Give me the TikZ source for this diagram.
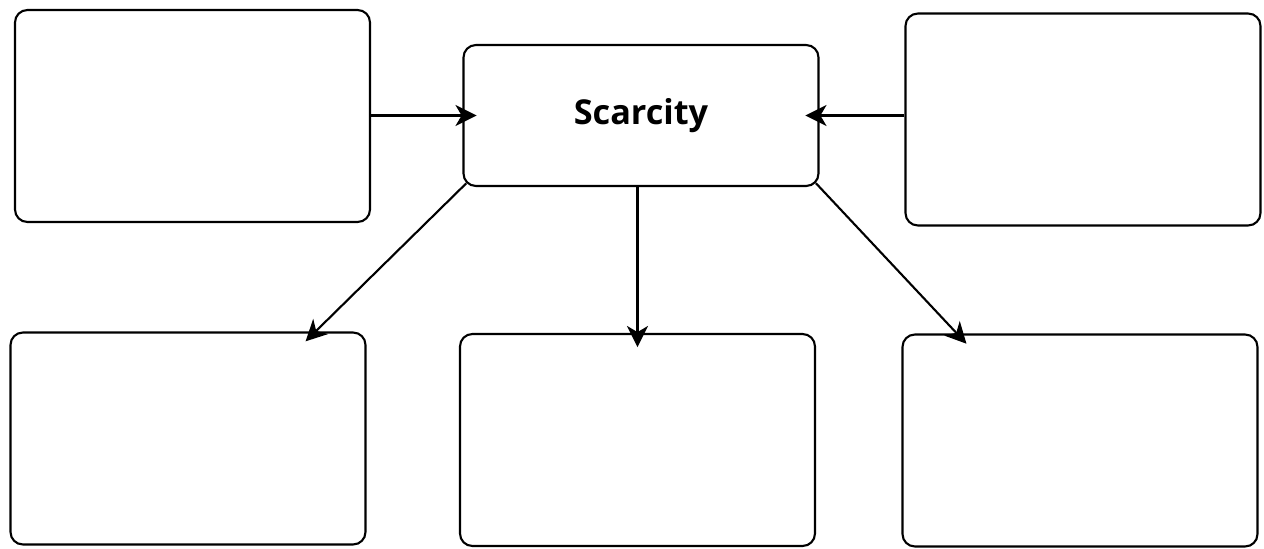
\documentclass[tikz,border=0pt]{standalone}
\usepackage{fontspec}
\setmainfont{Open Sans}
\usetikzlibrary{arrows.meta}
\begin{document}
\begin{tikzpicture}[x=0.02cm,y=-0.02cm,
    box/.style={draw,line width=1.2pt,rounded corners=7pt,inner sep=0pt,
      minimum width=7.1cm,minimum height=4.24cm},
    link/.style={-{Stealth[length=12pt,width=12pt,inset=3.5pt]},line width=1.2pt,shorten >=-8pt}]
  \useasboundingbox (0,0) rectangle (1264,548);
  \node[box,minimum height=2.82cm,font=\bfseries\fontsize{19.5}{24}\selectfont] (c) at (641,115.5) {Scarcity};
  \node[box] (tl) at (192.5,116) {};
  \node[box] (tr) at (1083,119.5) {};
  \node[box] (bl) at (188,438.5) {};
  \node[box] (bm) at (637.5,440) {};
  \node[box] (br) at (1080,440.5) {};
  \begin{scope}[link]
    \draw (tl.east |- c.west) -- (c.west);
    \draw (tr.west |- c.east) -- (c.east);
    \draw[shorten <=-3pt] (c.south west) -- (bl.40);
    \draw (c.south -| bm.north) -- (bm.north);
    \draw[shorten <=-3pt] (c.south east) -- (br.139);
  \end{scope}
\end{tikzpicture}
\end{document}
